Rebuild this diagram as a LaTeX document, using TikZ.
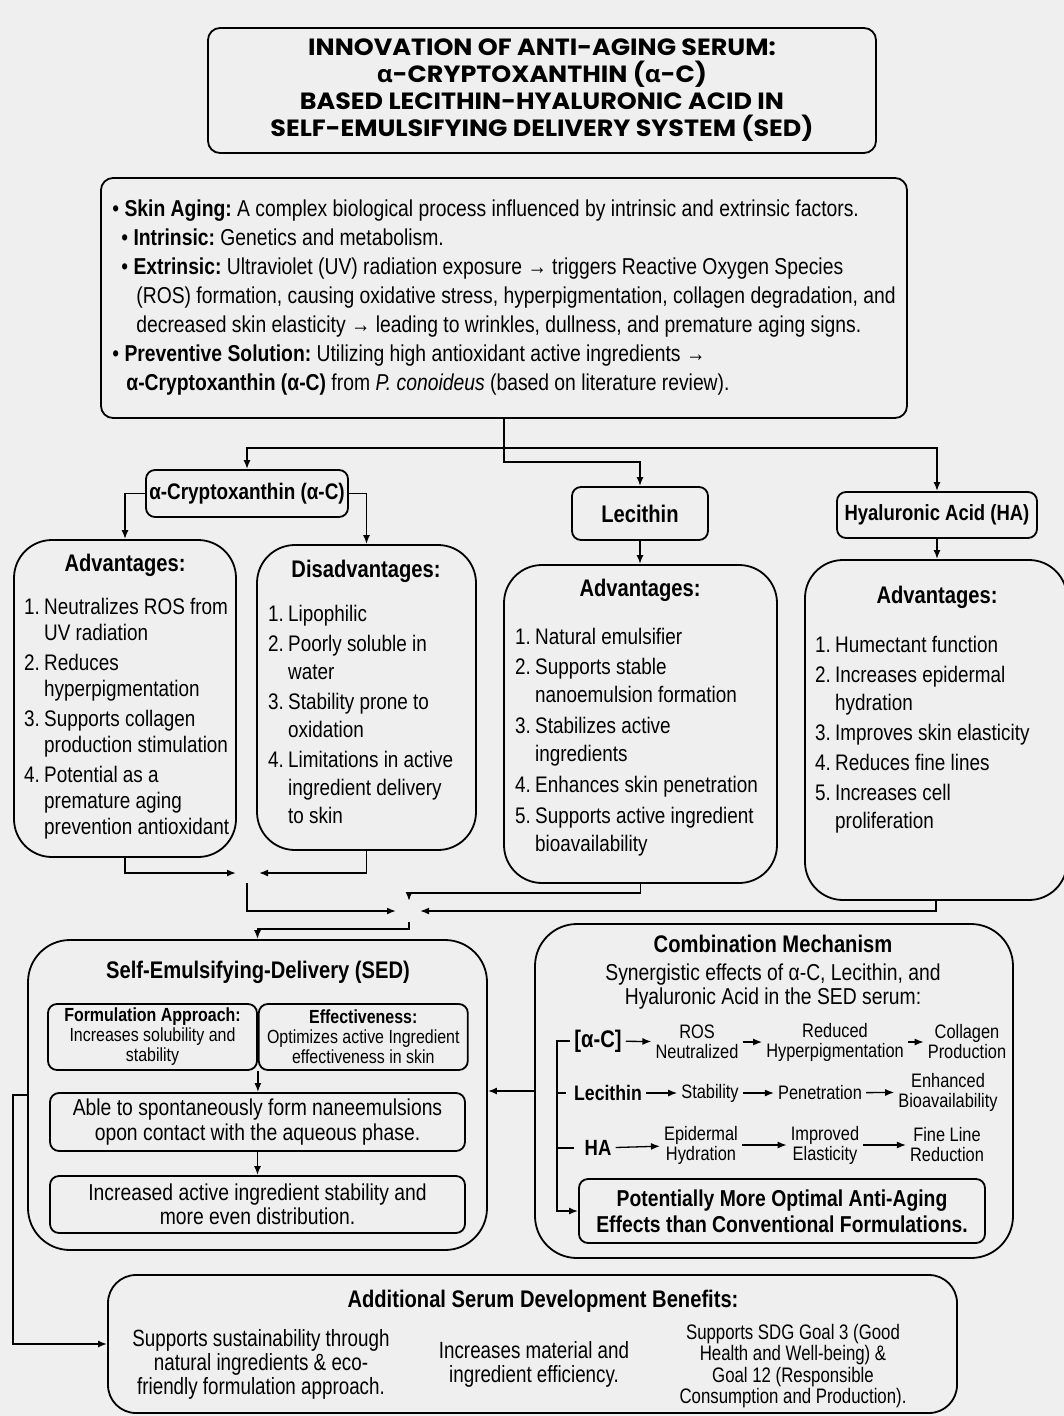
\documentclass[tikz,border=0pt]{standalone}
\usepackage{fontspec}
\setmainfont{Liberation Sans}[FakeStretch=0.84]
\newfontfamily\titlefont{Poppins}[FakeStretch=1.08]
\newfontfamily\greekfont{Open Sans}[FakeStretch=1.05]
\newfontfamily\narrowfont{Liberation Sans}[FakeStretch=0.80]
\usetikzlibrary{arrows.meta, positioning}
\definecolor{bgc}{RGB}{239,239,239}
\newcommand\itm[1]{\makebox[20pt][l]{#1}}
\newcommand\ind{\hspace*{20pt}}
\frenchspacing

\begin{document}
\begin{tikzpicture}[x=1pt, y=-1pt, >={Latex[length=9pt,width=7pt]},
    box/.style={draw, line width=1.8pt, rounded corners=9pt, inner sep=0pt},
    panel/.style={draw, line width=1.8pt, rounded corners=38pt, inner sep=0pt},
    head/.style={inner sep=0pt, font=\fontsize{24}{28}\selectfont\bfseries},
    items/.style={align=left, inner sep=0pt, anchor=north west, font=\fontsize{22.5}{28}\selectfont},
    small/.style={align=center, inner sep=4pt, font=\fontsize{19.5}{20}\selectfont},
    flow/.style={line width=1.3pt, ->},
    conn/.style={line width=1.7pt, ->},
    link/.style={line width=1.7pt}]

\useasboundingbox (0,0) rectangle (1064,1416);
\fill[bgc] (0,0) rectangle (1064,1416);

% Title and background
\node [box, rounded corners=12pt, minimum width=668pt, minimum height=125pt, align=center,
  font=\titlefont\bfseries\fontsize{23.5}{27}\selectfont] (title) at (542,90.5)
  {INNOVATION OF ANTI-AGING SERUM:\\ {\greekfont α}-CRYPTOXANTHIN ({\greekfont α}-C)\\
   BASED LECITHIN-HYALURONIC ACID IN\\ SELF-EMULSIFYING DELIVERY SYSTEM (SED)};

\node [box, rounded corners=12pt, minimum width=806pt, minimum height=240pt, align=left,
  font=\fontsize{23}{29}\selectfont] (main) at (504,298)
  {\textbullet\ \textbf{Skin Aging:} A complex biological process influenced by intrinsic and extrinsic factors.\\
   \hspace*{9pt}\textbullet\ \textbf{Intrinsic:} Genetics and metabolism.\\
   \hspace*{9pt}\textbullet\ \textbf{Extrinsic:} Ultraviolet (UV) radiation exposure → triggers Reactive Oxygen Species\\
   \hspace*{24pt}(ROS) formation, causing oxidative stress, hyperpigmentation, collagen degradation, and\\
   \hspace*{24pt}decreased skin elasticity → leading to wrinkles, dullness, and premature aging signs.\\
   \textbullet\ \textbf{Preventive Solution:} Utilizing high antioxidant active ingredients →\\
   \hspace*{14pt}\textbf{α-Cryptoxanthin (α-C)} from \textit{P. conoideus} (based on literature review).};

% Ingredients
\node [box, minimum width=202pt, minimum height=47pt, font=\fontsize{22.5}{26}\selectfont\bfseries] (acx) at (247,493.5) {α-Cryptoxanthin (α-C)};
\node [box, minimum width=136pt, minimum height=53pt, font=\fontsize{24}{26}\selectfont\bfseries] (lec) at (640,513.5) {Lecithin};
\node [box, minimum width=200pt, minimum height=46pt, font=\fontsize{22}{26}\selectfont\bfseries] (ha) at (937,515) {Hyaluronic Acid (HA)};

% Advantage / disadvantage panels
\node [panel, minimum width=222pt, minimum height=317pt] (advA) at (125,698.5) {};
\node [head] (advAhead) at (125,565) {Advantages:};
\node [items, font=\fontsize{22.5}{26}\selectfont] (advAlist) at (24,598)
  {\itm{1.}Neutralizes ROS from\\ \ind UV radiation\\[4pt]
   \itm{2.}Reduces\\ \ind hyperpigmentation\\[4pt]
   \itm{3.}Supports collagen\\ \ind production stimulation\\[4pt]
   \itm{4.}Potential as a\\ \ind premature aging\\ \ind prevention antioxidant};

\node [panel, minimum width=219pt, minimum height=305pt] (dis) at (366.5,697.5) {};
\node [head] (dishead) at (366,571) {Disadvantages:};
\node [items] (dislist) at (268,605)
  {\itm{1.}Lipophilic\\[2pt]
   \itm{2.}Poorly soluble in\\ \ind water\\[2pt]
   \itm{3.}Stability prone to\\ \ind oxidation\\[2pt]
   \itm{4.}Limitations in active\\ \ind ingredient delivery\\ \ind to skin};

\node [panel, minimum width=273pt, minimum height=318pt] (lecadv) at (640.5,724) {};
\node [head] (lecadvhead) at (640,590) {Advantages:};
\node [items] (lecadvlist) at (515,628)
  {\itm{1.}Natural emulsifier\\[2pt]
   \itm{2.}Supports stable\\ \ind nanoemulsion formation\\[3pt]
   \itm{3.}Stabilizes active\\ \ind ingredients\\[3pt]
   \itm{4.}Enhances skin penetration\\[3pt]
   \itm{5.}Supports active ingredient\\ \ind bioavailability};

\node [panel, minimum width=262pt, minimum height=340pt] (haadv) at (936,730) {};
\node [head] (haadvhead) at (937,597) {Advantages:};
\node [items] (haadvlist) at (815,636)
  {\itm{1.}Humectant function\\[2pt]
   \itm{2.}Increases epidermal\\ \ind hydration\\[2pt]
   \itm{3.}Improves skin elasticity\\[2pt]
   \itm{4.}Reduces fine lines\\[2pt]
   \itm{5.}Increases cell\\ \ind proliferation};

% Self-emulsifying delivery
\node [panel, rounded corners=42pt, minimum width=459pt, minimum height=310pt] (sed) at (257.5,1095) {};
\node [head] (sedhead) at (258,972) {Self-Emulsifying-Delivery (SED)};
\node [box, minimum width=209pt, minimum height=66pt, align=center, font=\fontsize{19}{20}\selectfont] (form) at (152.5,1037)
  {\textbf{Formulation Approach:}\\ Increases solubility and\\ stability};
\node [box, minimum width=209pt, minimum height=66pt, align=center, font=\fontsize{19}{20}\selectfont, right=0pt of form] (eff)
  {\textbf{Effectiveness:}\\ Optimizes active Ingredient\\ effectiveness in skin};
\node [box, minimum width=415pt, minimum height=58pt, align=center, font=\fontsize{23}{25}\selectfont] (able) at (257.5,1122)
  {Able to spontaneously form naneemulsions\\ opon contact with the aqueous phase.};
\node [box, minimum width=415pt, minimum height=57pt, align=center, font=\fontsize{23}{24}\selectfont] (inc) at (257.5,1204.5)
  {Increased active ingredient stability and\\ more even distribution.};

% Combination mechanism
\node [panel, rounded corners=42pt, minimum width=478pt, minimum height=334pt] (comb) at (774,1091) {};
\node [head] (combhead) at (773,944) {Combination Mechanism};
\node [align=center, inner sep=0pt, font=\fontsize{23}{24}\selectfont] (combsub) at (773,987)
  {Synergistic effects of α-C, Lecithin, and\\ Hyaluronic Acid in the SED serum:};

\node [small, font=\fontsize{24}{26}\selectfont\bfseries] (r1) at (598,1041) {[α-C]};
\node [small] (r1a) at (697,1042) {ROS\\ Neutralized};
\node [small] (r1b) at (835,1042) {Reduced\\ Hyperpigmentation};
\node [small] (r1c) at (967,1042) {Collagen\\ Production};
\node [small, font=\fontsize{21}{24}\selectfont\bfseries] (r2) at (608,1093) {Lecithin};
\node [small] (r2a) at (710,1093) {Stability};
\node [small] (r2b) at (820,1093) {Penetration};
\node [small] (r2c) at (948,1092) {Enhanced\\ Bioavailability};
\node [small, font=\fontsize{22}{24}\selectfont\bfseries] (r3) at (598,1148) {HA};
\node [small] (r3a) at (701,1145) {Epidermal\\ Hydration};
\node [small] (r3b) at (825,1145) {Improved\\ Elasticity};
\node [small] (r3c) at (947,1145) {Fine Line\\ Reduction};

\node [box, minimum width=406pt, minimum height=64pt, align=center, font=\fontsize{23}{26}\selectfont\bfseries] (pot) at (782,1211)
  {Potentially More Optimal Anti-Aging\\ Effects than Conventional Formulations.};

% Additional benefits
\node [panel, rounded corners=28pt, minimum width=849pt, minimum height=138pt] (add) at (532.5,1344) {};
\node [head, font=\fontsize{24}{26}\selectfont\bfseries] (addhead) at (543,1301) {Additional Serum Development Benefits:};
\node [align=center, inner sep=0pt, font=\narrowfont\fontsize{23.5}{24}\selectfont] (add1) at (261,1364)
  {Supports sustainability through\\ natural ingredients \& eco-\\ friendly formulation approach.};
\node [align=center, inner sep=0pt, font=\narrowfont\fontsize{23.5}{24}\selectfont] (add2) at (534,1364)
  {Increases material and\\ ingredient efficiency.};
\node [align=center, inner sep=0pt, font=\narrowfont\fontsize{21}{21.5}\selectfont] (add3) at (793,1366)
  {Supports SDG Goal 3 (Good\\ Health and Well-being) \&\\ Goal 12 (Responsible\\ Consumption and Production).};

% Junction points
\coordinate (split) at (504,448);
\coordinate (m1) at (247,873);
\coordinate (m2) at (409,911);
\coordinate (brk) at (557,1042);

% Arrows from the problem statement
\draw[link] (main.south) -- (split);
\draw[conn] (split) -- ++(0,14) -| (lec.north);
\draw[conn, <->] (acx.north) |- (split) -| (ha.north);
\draw[conn] (acx.west) -| (advA.north);
\draw[conn] (acx.east) -| (dis.north);
\draw[conn] (lec.south) -- (lec.south |- lecadv.north);
\draw[conn] (ha.south) -- (ha.south |- haadv.north);

% Merging towards the SED system
\draw[conn] (advA.south) |- ([xshift=-11pt]m1);
\draw[conn] (dis.south) |- ([xshift=12pt]m1);
\draw[conn] ([yshift=-10pt]m1) |- ([xshift=-13pt]m2);
\draw[conn] (lecadv.south) -- ++(0,9) -| ([yshift=10pt]m2);
\draw[conn] (haadv.south) |- ([xshift=11pt]m2);
\draw[conn] ([yshift=-11pt]m2) -- ++(0,7) -| (sed.north);

% Inside the SED panel
\draw[conn] (form.south east) -- (form.south east |- able.north);
\draw[conn] (able.south) -- (inc.north);

% Combination chains
\draw[flow] (r1) -- (r1a);
\draw[flow] (r1a) -- (r1b);
\draw[flow] (r1b) -- (r1c);
\draw[flow] (r2) -- (r2a);
\draw[flow] (r2a) -- (r2b);
\draw[flow] (r2b) -- (r2c);
\draw[flow] (r3) -- (r3a);
\draw[flow] (r3a) -- (r3b);
\draw[flow] (r3b) -- (r3c);
\draw[conn] (r1.west) -- (r1.west -| brk) |- (pot.west);
\draw[link] (r2.west -| brk) -- ++(9,0);
\draw[link] (r3.west -| brk) -- ++(17,0);

% Feedback and benefits
\draw[conn] (comb.west) -- (comb.west -| sed.east);
\draw[conn] (sed.west) -- ++(-14,0) |- (add.west);

\end{tikzpicture}
\end{document}
